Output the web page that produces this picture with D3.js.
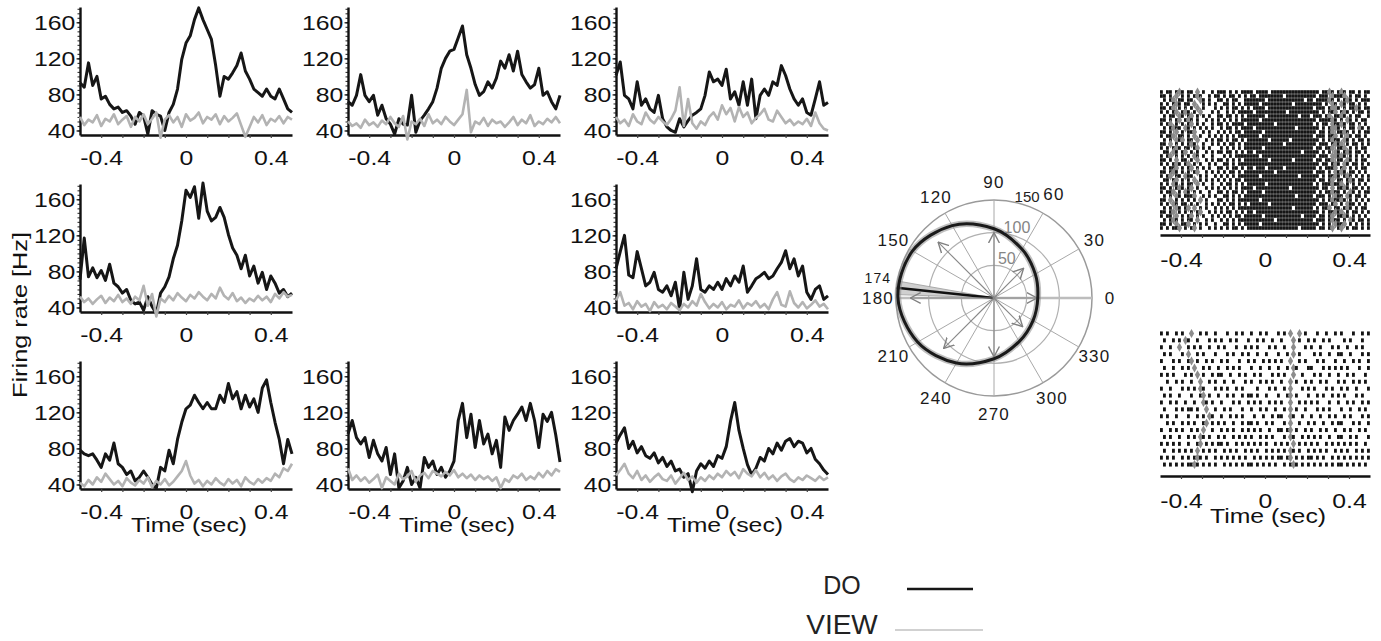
<!DOCTYPE html>
<html><head><meta charset="utf-8">
<script src="https://cdn.jsdelivr.net/npm/d3@7"></script>
<style>
body{margin:0;background:#fff}
svg{display:block}
text{font-family:"Liberation Sans",Arial,Helvetica,sans-serif}
</style>
</head><body>
<svg id="c" width="1381" height="641"></svg>
<script>
// ---------------- DATA ----------------
const timeStart = -0.5, timeStep = 0.02;          // PSTH bins (51 bins, -0.5 .. 0.5 s)
const yTickValues = [40, 80, 120, 160];
const xTickLabels = [-0.4, 0, 0.4];
const seriesNames = ["DO", "VIEW"];

const doP1 = [93,88,115,90,100,75,78,69,64,66,60,62,56,47,60,56,36,62,58,56,40,60,69,86,119,
  137,145,163,176,163,152,141,112,78,100,97,104,112,126,106,97,86,82,78,86,78,75,86,75,64,60];
const viewP1 = [55,46,52,49,57,45,53,50,58,47,52,56,44,55,50,58,47,53,60,32,52,57,49,55,44,58,51,54,60,48,
  55,52,58,47,56,50,54,59,46,33,44,55,49,57,46,53,50,56,48,55,52];

const doP2 = [72,68,79,102,79,72,79,57,68,53,47,36,53,47,46,79,38,51,57,64,72,87,109,120,128,
  130,143,156,124,109,91,79,83,94,87,98,117,109,124,106,128,102,94,87,91,109,79,83,72,64,79];
const viewP2 = [50,45,48,43,52,46,49,44,51,47,55,48,44,56,30,50,47,53,45,58,48,52,47,55,50,46,52,58,85,38,
  50,47,54,45,52,48,50,44,49,55,46,52,48,57,45,50,47,53,49,55,48];

const doP3 = [101,116,79,75,64,94,68,75,64,60,79,53,44,40,38,53,44,51,57,60,64,79,105,94,97,
  90,108,75,83,68,94,68,97,53,79,86,79,94,90,112,101,86,75,68,75,60,57,75,94,68,71];
const viewP3 = [55,48,52,45,58,50,47,60,52,48,55,50,46,53,62,88,45,75,48,42,50,46,55,60,52,68,58,65,50,66,
  55,60,48,54,58,64,52,50,62,55,48,52,46,50,47,53,45,60,48,42,40];

const doP4 = [71,117,74,84,73,81,70,88,67,63,56,60,48,44,46,37,52,41,33,56,63,74,94,109,136,
  170,162,174,139,178,147,136,140,151,140,121,106,98,83,98,75,86,67,79,60,75,67,56,60,52,56];
const viewP4 = [52,46,50,44,49,53,45,51,47,54,46,50,44,52,48,64,42,55,30,50,46,53,48,56,51,47,54,50,57,52,
  48,55,50,62,53,49,56,47,51,45,50,47,53,48,52,46,55,50,57,52,54];

const doP6 = [83,102,120,76,73,102,83,64,68,79,60,57,64,53,68,38,79,49,64,94,60,57,64,60,68,
  60,72,64,75,68,86,57,64,72,75,79,72,75,83,90,103,83,94,75,86,57,49,60,64,49,53];
const viewP6 = [48,57,42,45,38,47,41,44,36,46,40,43,38,45,41,37,44,40,47,42,55,46,39,44,40,46,38,43,41,48,
  39,45,42,47,40,44,38,49,57,43,41,58,45,40,46,39,43,48,41,44,38];

const doP7 = [78,74,72,74,67,59,74,67,86,63,59,51,55,44,48,55,48,40,36,59,55,78,63,90,109,
  124,128,139,131,124,131,124,124,139,131,152,135,143,124,139,126,135,120,147,156,131,109,90,63,90,74];
const viewP7 = [42,38,45,40,48,43,52,46,40,44,38,47,42,39,45,41,48,37,44,40,46,39,43,49,55,66,50,41,45,38,
  44,40,47,42,39,46,41,45,38,48,43,40,46,42,47,44,52,48,58,55,63];

const doP8 = [96,111,92,85,92,70,89,74,66,81,51,74,36,44,59,40,48,36,70,59,66,51,59,48,55,
  66,111,130,92,118,81,111,85,96,74,89,59,115,100,111,118,126,111,130,111,81,118,110,120,95,65];
const viewP8 = [58,45,50,44,48,42,46,51,36,48,44,40,52,46,49,55,43,50,53,47,55,52,49,54,50,56,48,52,47,51,
  45,50,46,49,44,48,36,46,43,50,47,52,45,49,46,53,48,55,50,57,54];

const doP9 = [86,95,103,80,88,75,82,72,69,75,64,70,60,66,55,57,48,52,32,55,63,58,66,60,72,
  69,82,110,131,100,80,62,51,58,70,66,80,74,86,78,88,91,82,88,86,75,80,68,63,56,51];
const viewP9 = [50,56,63,52,47,55,45,50,43,48,52,46,44,50,41,47,53,45,49,42,48,44,50,46,52,48,55,50,54,47,
  57,52,49,56,48,53,46,50,44,49,52,46,43,48,45,50,47,44,49,45,48];

// polar tuning (deg, Hz)
const tuningAngles = [0,30,60,90,120,150,180,210,240,270,300,330];
const tuningRates  = [67,73,86,106,128,144,147,135,115,93,77,69];
const arrowAngles  = [0,45,90,135,180,225,270,315];
const arrowRates   = [66,64,100,121,128,109,90,62];
const ringValues   = [50,100,150];
const angleLabels  = [0,30,60,90,120,150,180,210,240,270,300,330];
const meanDirection = 174, meanCI = [170,178];

// spike rasters: '#' spike (DO), 'o' marker (VIEW), '.' none; 70 bins over -0.5..0.5 s
const rasterTop = [
"#.##.#o#.# #.o.#..#.# ##.#.#.### #.####.### ########## ###.##o#.# o#.##.#.##",
"##.#.o.#.# .#o#..#.## .#.##.#.#. ##.####### #.######## ##.###.o## #o.#.##.#.",
".#.#o.##.# #..o#.#..# #.#.##..## #####.#### ########.# #.####o#.# .#o#.#.###",
"#.#.#o#.## .o..#.#.#. .##.#.#.## ###.###### ####.##### ####.#.o#. o#.##.#.#.",
"##.#o.#.#. #.o.#...#. #.#.##.#.# .####.#### ########## #.###.#oo# .#.##o#.##",
"#.#.#o.#o# .#.o...#.# ..#.#.#### #.######## ##.####### ###.#.##o. #o#.#.##.#",
".#.##.o#.# o.#.#.#..# #.##.#.#.# #####.#### ######.### .###.#o.## o#.#.##..#",
"##.#.#o.#o #.#..#.#.# .#.#.#.### ###.###### ########## ##.####o#. #.o#.#.##.",
"#.#o.#.#.# o.#.#..#.# #.#.####.# ########.# ########## #.#.##.o## o#.##.#.#.",
".#.#o##.o# .#.#.#.#.. #.##.#.### #.######## #####.#### ###.#.#oo# .#.##.o#.#",
"##.#.o.#.# #o..#.#..# .#.#.##.## ####.##### ########## ##.##.#o.# #o#.#.#.##",
"#.##o.##.# .o.#..#.#. #.#.#.#### ###.###### ########## #.###.##o. #.o#.##.#.",
".#.#.o#o.# #.o..#.#.# #.#.##.#.# ######.### ###.###### ###.#.#o## .o#.#.##.#",
"##.o.#.#.# o#..#..#.# .#.##.#.## ########## #.######## ##.###.#o# o.#.##.#.#",
"#.#.#o#.## .#o.#.#... #.#.#.#.## ####.##### ########## #.##.##o.# #o.#.#.##.",
".##.o#.#o. #.#..#.#.# #.##.#.#.# #.######## #######.## ###.#.#.o# .#o#.##.#.",
"#.#o.#.#.# .o#.#..#.. .#.#.##### ###.###### ########## ##.###.oo# o#.#.#.#.#",
"##.#.o.##. #.o..#.#.# #.#.#.#.## ######.### ####.##### #.##.##o.# #.o#.#.##.",
"#.#.#o#.#o .#.#..#.#. .##.#.#### ########## ########## ###.##.#o# .o#.##.#.#",
".#.##o.#.# o.#.#.#..# #.#.##.#.# #.###.#### #.######## ##.#.###o. #o.#.#.##.",
"##.#o#.#.# .#o..#.#.# .#.##.#.## ########.# ########## #.###.#.o# o#.##.#.#.",
"#.#o.##.o# #..#.#..#. #.#.#.#### ###.###### ######.### ###.#.##o# .#o#.#.#.#",
".##.#o.#.# .o.#.#.#.# .#.#.##.## ########## ########## ##.##.#o.# #.#o#.##.#",
"#.#.o#.#.# #.o.#..#.. #.##.#.#.# #####.#### ########## #.#.###o## o.#.#.#.#.",
"##.#.#o#.# o.#..#.#.# .#.#.#.### #.######## ###.###### ###.##.o.# #o#.##.#.#",
"#.##o.#.o# .#.#..#..# #.#.##.#.# ####.##### ########## ##.#.##o## .#.o#.#.##",
".#.#.o#.## #o..#.#.#. .##.#.#.## ########## #####.#### #.###.#.o# #.o#.##.#.",
"##.o.#.#.# .#.o.#...# #.#.#.#### ###.###### ########## ###.#.#o## o#.#.#.#.#",
"#.#.o#.##. #.#..#.#.# .#.##.#.#. ######.### ########## ##.###.#o. #.o##.#.#.",
".#.#.o#.#o .o.#.#..#. #.#.#.#### ########## ####.##### #.#.##o.## .#o#.#.##.",
"##.#o.#.#. #.#o..#.#. #.##.#.#.# #.######## ########## ###.#.##o# o.#.##.#.#",
"#.##.o.#.# o.#.#..#.# .#.#.##.## ####.##### #######.## ##.##.#o.# #o#.#.#.#.",
".#.#o#.#.# #.o..#.#.. #.#.#.#### ########.# ########## #.###.#o## .#.o#.##.#",
"##.#.o.##o .#.#.#..#. .##.#.#.## ###.###### ########## ###.#.#.o# #o.#.#.#.#",
"#.#.##o.#. #o.#..#.#. #.#.##.#.# ########## ######.### ##.##.#o.# o.#.##.#.#"
];
const rasterBottom = [
"#.#..#.#.. o..#.#..#. ..#..#.#.. #..#.#...# .#.o..o.#. ..#..#..#. #...#..#.#",
".#..#.#.o# ..#...#.#. #..#.#...# ..#.#..#.. #...o.#..# .#..#.#... .#.#...#..",
"#..#..o..# .#.#..#..# .#...#..#. #.#...#.#. .#..o...#. #..#...#.# ..#..#.#..",
".#.#...#.o ..#.#...#. ..#.#..#.# ..#..#...# ..#.o.#... .#.#..#..# #..#...#.#",
"#...#.#..# o.#..#.#.. #.#...#..# .#..#.#.#. #..o..#.#. ..#.#...#. .#..#.#..#",
".#..#..#.# .o..#.#..# ..#.#.#... #..#..#..# ..#.o#...# #...#.#.#. #.#...#..#",
"#.#.#...#. #.o.#..#.# #..#..#.#. .#.#...#.# .#..o..#.. .#.#..#..# ..#.#...#.",
"..#..#.#.. #..o..#.#. .#..#...#. #..#.#.#.. #..o.#..#. #..#.#...# .#..#.#.#.",
"#..#...#.# .#.o#...#. #.#..#.#.. ..#...#.#. .#.o...#.# .#...#.#.. #.#..#...#",
".#.#..#... #..#o.#..# ..#.#..#.# #.#..#...# ..#o.#...# ..#.#..#.# .#...#.#..",
"#..#.#..#. .#..o#.#.. #...#.#..# .#.#..#.#. #..o..#.#. #.#...#..# ..#.#..#.#",
".#...#.#.# #.#..o..#. .#.#...#.. #..#.#..#. .#.o.#..#. ..#.#.#... #..#..#.#.",
"#.#..#...# ..#.#.o#.. #..#.#.#.. .#..#..#.# #..o#..#.. #..#..#.#. .#.#...#.#",
"..#.#..#.# .#..#o.#.# .#..#..#.# #.#..#.#.. .#.o..#..# .#..#..#.# #...#.#..#",
"#..#.#.#.. #.#.o..#.. #.#.#..#.# .#.#..#..# #.#o.#..#. #..#.#..#. .#.#..#.#.",
".#.#..#..# .#.o#.#..# .#..#.#.#. #..#.#.#.. .#.o#..#.# .#.#..#..# #..#.#...#",
"#.#.#.#..# ..#o.#.#.# #.#..#.#.# .#.#.#..#. #.#.o.#.#. #.#..#.#.# .#.#.#..#.",
".#..#.#.#. #.o.#.#.#. .#.#.#..#. #.#..#.#.# .#.o#.#..# .#.#.#..#. #.#..#.#.#",
"#.#.#..#.# .#o#.#..#. #.#.#.#.#. .#.#.#.#.# #.#o.#.#.# #.#.#..#.# .#.#.#.#.#",
".#.#.#.#.# #o#.#.#.#. .#.#.#.#.# #.#.#.#.#. .#.#o#.#.# .#.#.#.#.# #.#.#.#.#."
];

// ---------------- LAYOUT ----------------
const svg = d3.select("#c");
const FONT = '"Liberation Sans",Arial,Helvetica,sans-serif';
const panels = [
  {doR: doP1, viewR: viewP1}, {doR: doP2, viewR: viewP2}, {doR: doP3, viewR: viewP3},
  {doR: doP4, viewR: viewP4}, null,                      {doR: doP6, viewR: viewP6},
  {doR: doP7, viewR: viewP7}, {doR: doP8, viewR: viewP8}, {doR: doP9, viewR: viewP9}
];
const colX = [80, 348, 616], rowY = [135, 312, 489], panelW = 212, panelH = 128;
const xTickVals = d3.range(-4, 5).map(i => i / 10);
const fmtX = d => xTickLabels.some(v => Math.abs(v - d) < 1e-9) ? (Math.abs(d) < 1e-9 ? "0" : String(d)) : "";
const SX = 1.18;

panels.forEach((p, i) => {
  if (!p) return;
  const r = Math.floor(i / 3), c = i % 3;
  const x0 = colX[c], yb = rowY[r];
  const x = d3.scaleLinear([-0.5, 0.5], [x0, x0 + panelW]);
  const y = d3.scaleLinear([35, 177], [yb, yb - panelH]);
  const g = svg.append("g");

  const gm = g.append("g").attr("transform", `translate(${x0},0)`)
    .call(d3.axisLeft(y).tickValues(d3.range(40, 176, 5)).tickSize(2.5).tickFormat(""));
  gm.select(".domain").remove();
  gm.selectAll("line").attr("stroke", "#333").attr("stroke-width", 1.1);

  const gy = g.append("g").attr("transform", `translate(${x0},0)`)
    .call(d3.axisLeft(y).tickValues(yTickValues).tickSize(3.5).tickPadding(0.5).tickSizeOuter(0));
  gy.attr("font-size", 21).attr("font-family", FONT);
  gy.select(".domain").attr("stroke", "#111").attr("stroke-width", 2.4);
  gy.selectAll("text").attr("fill", "#111").attr("transform", `scale(${SX},1)`);

  const gx = g.append("g").attr("transform", `translate(0,${yb})`)
    .call(d3.axisBottom(x).tickValues(xTickVals).tickSize(3).tickPadding(12).tickSizeOuter(0).tickFormat(fmtX));
  gx.attr("font-size", 21).attr("font-family", FONT);
  gx.select(".domain").attr("stroke", "#111").attr("stroke-width", 2.6);
  gx.selectAll("line").attr("stroke", "#444").attr("stroke-width", 1.2);
  gx.selectAll("text").attr("fill", "#111").attr("transform", `scale(${SX},1)`);

  const line = d3.line().x((d, k) => x(timeStart + k * timeStep)).y(d => y(d));
  g.append("path").attr("d", line(p.doR)).attr("fill", "none")
    .attr("stroke", "#161616").attr("stroke-width", 3).attr("stroke-linejoin", "round");
  g.append("path").attr("d", line(p.viewR)).attr("fill", "none")
    .attr("stroke", "#b3b3b3").attr("stroke-width", 2.6).attr("stroke-linejoin", "round");

  if (r === 2) {
    g.append("text").attr("transform", `translate(${x(0) + 3},${yb + 43}) scale(${SX},1)`)
      .attr("text-anchor", "middle").attr("font-size", 21).attr("fill", "#111").text("Time (sec)");
  }
});

svg.append("text").attr("transform", "translate(27,315) rotate(-90)")
  .attr("text-anchor", "middle").attr("font-size", 21).attr("fill", "#111")
  .attr("textLength", 166).attr("lengthAdjust", "spacingAndGlyphs").text("Firing rate [Hz]");

// ---------------- POLAR ----------------
const cx = 994, cy = 298;
const rS = d3.scaleLinear([0, 150], [0, 98]);
const rad = a => a * Math.PI / 180;
const pt = (a, rr) => [cx + rr * Math.cos(rad(a)), cy - rr * Math.sin(rad(a))];
const pg = svg.append("g");

ringValues.forEach((v, k) => {
  pg.append("circle").attr("cx", cx).attr("cy", cy).attr("r", rS(v))
    .attr("fill", "none").attr("stroke", k === 2 ? "#9a9a9a" : "#b0b0b0").attr("stroke-width", k === 2 ? 1.5 : 1.2);
});
angleLabels.forEach(a => {
  const [ex, ey] = pt(a, rS(150));
  pg.append("line").attr("x1", cx).attr("y1", cy).attr("x2", ex).attr("y2", ey)
    .attr("stroke", (a === 0 || a === 180) ? "#bdbdbd" : "#a8a8a8")
    .attr("stroke-width", (a === 0 || a === 180) ? 2.6 : 1);
});

const wedge = d3.arc().innerRadius(0).outerRadius(rS(150))
  .startAngle(rad(90 - meanCI[1])).endAngle(rad(90 - meanCI[0]));
pg.append("path").attr("transform", `translate(${cx},${cy})`).attr("d", wedge())
  .attr("fill", "#cfcfcf").attr("stroke", "#9a9a9a").attr("stroke-width", 0.8);
{
  const [mx, my] = pt(meanDirection, rS(150));
  pg.append("line").attr("x1", cx).attr("y1", cy).attr("x2", mx).attr("y2", my)
    .attr("stroke", "#111").attr("stroke-width", 2.4);
}

svg.append("defs").append("marker").attr("id", "arr").attr("viewBox", "0 -6 10 12")
  .attr("refX", 9.5).attr("refY", 0).attr("markerWidth", 11).attr("markerHeight", 13)
  .attr("markerUnits", "userSpaceOnUse").attr("orient", "auto")
  .append("path").attr("d", "M0,-5L9.5,0L0,5").attr("fill", "none").attr("stroke", "#808080").attr("stroke-width", 1.3);
arrowAngles.forEach((a, k) => {
  const [ex, ey] = pt(a, rS(arrowRates[k]));
  pg.append("line").attr("x1", cx).attr("y1", cy).attr("x2", ex).attr("y2", ey)
    .attr("stroke", "#888").attr("stroke-width", 1.1).attr("marker-end", "url(#arr)");
});

const tun = tuningAngles.map((a, k) => ({a, v: tuningRates[k]}));
const radial = d3.lineRadial().angle(d => rad(90 - d.a)).radius(d => rS(d.v)).curve(d3.curveCardinalClosed);
pg.append("path").attr("transform", `translate(${cx},${cy})`).attr("d", radial(tun))
  .attr("fill", "none").attr("stroke", "#8a8a8a").attr("stroke-width", 6.5).attr("opacity", 0.55);
pg.append("path").attr("transform", `translate(${cx},${cy})`).attr("d", radial(tun))
  .attr("fill", "none").attr("stroke", "#1a1a1a").attr("stroke-width", 3);

angleLabels.forEach(a => {
  const [lx, ly] = pt(a, a === 60 ? 120 : 116);
  pg.append("text").attr("x", lx).attr("y", ly).attr("text-anchor", "middle")
    .attr("dominant-baseline", "central").attr("font-size", 17).attr("letter-spacing", 1.2)
    .attr("fill", "#1a1a1a").text(a);
});
ringValues.forEach((v, k) => {
  const [lx, ly] = pt(72, rS(v) + 9);
  pg.append("text").attr("x", lx).attr("y", ly).attr("text-anchor", "middle")
    .attr("dominant-baseline", "central").attr("font-size", k === 2 ? 15 : 16)
    .attr("fill", k === 2 ? "#222" : "#858585").text(v);
});
{
  const [lx, ly] = pt(170, 118);
  pg.append("text").attr("x", lx).attr("y", ly).attr("text-anchor", "middle")
    .attr("dominant-baseline", "central").attr("font-size", 14).attr("letter-spacing", 1)
    .attr("fill", "#1a1a1a").text(meanDirection);
}

// ---------------- RASTERS ----------------
function raster(rows, top, bottom, axisY, markH, showTitle) {
  const x = d3.scaleLinear([-0.5, 0.5], [1160, 1370]);
  const parsed = rows.map(s => s.replace(/ /g, ""));
  const nb = parsed[0].length;
  const yB = d3.scaleBand(d3.range(parsed.length), [top, bottom]);
  const g = svg.append("g");
  const bw = (x(0.5) - x(-0.5)) / nb;
  parsed.forEach((s, ri) => {
    for (let b = 0; b < nb; b++) {
      const ch = s[b];
      if (ch === ".") continue;
      const xx = x(-0.5 + b / nb), yy = yB(ri) + (yB.bandwidth() - markH) / 2;
      if (ch === "#") {
        g.append("rect").attr("x", xx).attr("y", yy).attr("width", bw * 0.95).attr("height", markH).attr("fill", "#151515");
      } else {
        g.append("path").attr("transform", `translate(${xx + bw / 2},${yy + markH / 2})`)
          .attr("d", d3.symbol(d3.symbolDiamond, 24)()).attr("fill", "#8c8c8c");
      }
    }
  });
  const gx = g.append("g").attr("transform", `translate(0,${axisY})`)
    .call(d3.axisBottom(x).tickValues(xTickVals).tickSize(3).tickPadding(14).tickSizeOuter(0).tickFormat(fmtX));
  gx.attr("font-size", 21).attr("font-family", FONT);
  gx.select(".domain").attr("stroke", "#111").attr("stroke-width", 2.6);
  gx.selectAll("line").attr("stroke", "#444").attr("stroke-width", 1.2);
  gx.selectAll("text").attr("fill", "#111").attr("transform", `scale(${SX},1)`);
  if (showTitle) {
    g.append("text").attr("transform", `translate(${x(0) + 3},${axisY + 47}) scale(${SX},1)`)
      .attr("text-anchor", "middle").attr("font-size", 21).attr("fill", "#111").text("Time (sec)");
  }
}
raster(rasterTop, 90, 230, 235, 3.6, false);
raster(rasterBottom, 330, 468, 476, 4, true);

// ---------------- LEGEND ----------------
const lg = svg.append("g");
lg.append("text").attr("x", 842).attr("y", 594).attr("text-anchor", "middle")
  .attr("font-size", 25).attr("fill", "#222").text(seriesNames[0]);
lg.append("line").attr("x1", 907).attr("x2", 973).attr("y1", 589).attr("y2", 589)
  .attr("stroke", "#161616").attr("stroke-width", 2.4);
lg.append("text").attr("x", 842).attr("y", 634).attr("text-anchor", "middle")
  .attr("font-size", 28).attr("fill", "#222").text(seriesNames[1]);
lg.append("line").attr("x1", 895).attr("x2", 983).attr("y1", 630).attr("y2", 630)
  .attr("stroke", "#c2c2c2").attr("stroke-width", 1.6);
</script>
</body></html>
